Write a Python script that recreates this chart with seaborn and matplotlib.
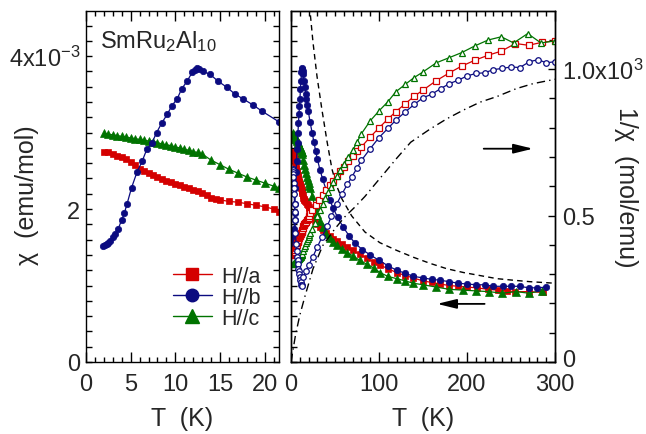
import matplotlib
matplotlib.use('Agg')
import matplotlib.pyplot as plt
import matplotlib.transforms as mtransforms
import seaborn as sns
from matplotlib.lines import Line2D
from matplotlib.ticker import MultipleLocator, FixedLocator, FixedFormatter, NullFormatter

sns.set_style('ticks')
plt.rcParams['font.family'] = ['Liberation Sans', 'DejaVu Sans']
plt.rcParams['mathtext.fontset'] = 'custom'
plt.rcParams['mathtext.rm'] = 'Liberation Sans'
plt.rcParams['mathtext.it'] = 'Liberation Sans:italic'
plt.rcParams['mathtext.bf'] = 'Liberation Sans:bold'

RED = '#d40000'
BLUE = '#0b0b80'
GREEN = '#007300'

labels = ['H//a', 'H//b', 'H//c']

# ---- chi (10^-3 emu/mol), low temperature (left panel) ----
T_lo_a = [2.0, 2.5, 3.0, 3.5, 4.0, 4.5, 5.0, 5.5, 6.0, 6.5, 7.0, 7.5, 8.0, 8.5, 9.0, 9.5,
          10.0, 10.5, 11.0, 11.5, 12.0, 12.5, 13.0, 13.5, 14.0, 14.5, 15.0,
          16.0, 17.0, 18.0, 19.0, 20.0, 21.0, 21.6]
chi_lo_a = [2.75, 2.74, 2.72, 2.70, 2.68, 2.65, 2.61, 2.57, 2.53, 2.50, 2.47, 2.44, 2.42, 2.39, 2.37, 2.35,
            2.33, 2.31, 2.29, 2.27, 2.25, 2.23, 2.21, 2.18, 2.15, 2.13, 2.12,
            2.10, 2.09, 2.07, 2.05, 2.03, 2.00, 1.96]

T_lo_b = [1.9, 2.1, 2.3, 2.5, 2.7, 3.0, 3.3, 3.6, 4.0, 4.3, 4.6, 5.1, 5.7, 6.3, 6.8, 7.4, 7.9, 8.5,
          9.1, 9.6, 10.2, 10.7, 11.3, 11.9, 12.2, 12.4, 12.6, 13.1, 13.9, 14.8, 15.8, 16.7, 17.6,
          18.7, 19.7, 21.6]
chi_lo_b = [1.52, 1.53, 1.54, 1.56, 1.58, 1.64, 1.68, 1.74, 1.86, 1.95, 2.07, 2.28, 2.48, 2.63, 2.78,
            2.87, 3.00, 3.13, 3.24, 3.35, 3.44, 3.57, 3.67, 3.79, 3.82, 3.84, 3.83, 3.80, 3.76, 3.67,
            3.59, 3.50, 3.44, 3.36, 3.28, 3.14]

T_lo_c = [2.0, 2.5, 3.0, 3.5, 4.0, 4.5, 5.0, 5.5, 6.0, 6.5, 7.0, 7.5, 8.0, 8.5, 9.0, 9.5, 10.0,
          10.5, 11.0, 11.5, 12.0, 12.5, 13.0, 14.0, 15.0, 16.0, 17.0, 18.0, 19.0, 20.0, 21.0, 21.6]
chi_lo_c = [2.99, 2.98, 2.97, 2.96, 2.95, 2.94, 2.93, 2.92, 2.91, 2.90, 2.89, 2.88, 2.87, 2.85, 2.84,
            2.83, 2.81, 2.80, 2.78, 2.77, 2.75, 2.74, 2.72, 2.64, 2.58, 2.52, 2.47, 2.42, 2.38,
            2.34, 2.30, 2.28]

# ---- chi (10^-3 emu/mol), higher temperature (right panel) ----
T_hi_a = [24, 27, 30, 33, 36, 40, 44, 48, 52, 58, 64, 70, 78, 86, 94, 101, 110, 120, 130, 139,
          150, 160, 169, 180, 190, 200, 211, 224, 235, 245, 255, 270, 286]
chi_hi_a = [1.90, 1.85, 1.80, 1.76, 1.73, 1.69, 1.65, 1.61, 1.58, 1.54, 1.50, 1.46, 1.41, 1.36,
            1.31, 1.27, 1.22, 1.17, 1.13, 1.10, 1.06, 1.04, 1.02, 1.00, 0.99, 0.98, 0.97, 0.95,
            0.94, 0.93, 0.92, 0.92, 0.91]

T_hi_b = [24, 26, 28, 30, 33, 36, 40, 44, 48, 53, 59, 66, 73, 81, 90, 100, 110, 120, 130, 139,
          150, 160, 169, 180, 190, 200, 210, 220, 230, 241, 250, 260, 270, 280, 290]
chi_hi_b = [3.00, 2.88, 2.76, 2.65, 2.51, 2.39, 2.25, 2.12, 2.01, 1.89, 1.77, 1.65, 1.55, 1.47,
            1.40, 1.33, 1.26, 1.20, 1.16, 1.12, 1.10, 1.08, 1.07, 1.05, 1.03, 1.02, 1.01, 1.01,
            0.99, 0.99, 0.99, 0.99, 0.97, 0.97, 0.98]

T_hi_c = [24, 27, 30, 33, 36, 40, 44, 48, 52, 58, 64, 70, 78, 86, 94, 101, 110, 120, 130, 139,
          150, 165, 180, 195, 210, 225, 240, 256, 270, 285]
chi_hi_c = [2.17, 2.04, 1.93, 1.84, 1.77, 1.68, 1.62, 1.57, 1.53, 1.48, 1.43, 1.39, 1.33, 1.28,
            1.23, 1.17, 1.12, 1.09, 1.06, 1.03, 1.01, 0.98, 0.95, 0.94, 0.93, 0.92, 0.90, 0.92,
            0.90, 0.93]

# ---- 1/chi (mol/emu) ----
T_inv_a = T_lo_a + [24, 28, 32, 36, 40, 44, 48, 52, 56, 60, 65, 70, 75, 80, 90, 100, 110, 119,
                    130, 140, 150, 165, 180, 194, 209, 224, 239, 255, 270, 285, 300]
inv_a = [364, 365, 368, 370, 373, 377, 383, 389, 395, 400, 405, 410, 413, 418, 422, 426, 429,
         433, 437, 441, 444, 448, 452, 459, 465, 469, 472, 476, 478, 483, 488, 493, 500, 510,
         519, 536, 553, 570, 587, 603, 619, 635, 651, 666, 685, 703, 719, 734, 768, 799, 829,
         854, 882, 907, 928, 960, 987, 1010, 1030, 1047, 1061, 1087, 1081, 1091, 1096]

T_inv_b = [1.9, 2.1, 2.3, 2.5, 2.7, 3.0, 3.3, 3.6, 4.0, 4.3, 4.6, 5.1, 5.7, 6.3, 6.8, 7.4, 7.9,
           8.5, 9.1, 9.6, 10.2, 10.7, 11.3, 11.9, 12.2, 12.4,
           14, 17, 20, 25, 30, 35, 41, 46, 52, 58, 64, 69, 75, 80, 90, 100, 110, 119, 130, 140,
           150, 160, 170, 180, 190, 200, 210, 220, 230, 240, 250, 260, 271, 281, 290, 300]
inv_b = [658, 654, 649, 641, 633, 610, 595, 575, 538, 513, 483, 439, 403, 380, 360, 348, 333,
         319, 309, 299, 291, 280, 272, 264, 262, 260,
         290, 310, 330, 360, 393, 425, 463, 497, 540, 574, 606, 631, 662, 688, 728, 766, 797,
         825, 854, 879, 902, 914, 933, 950, 962, 976, 985, 987, 998, 1002, 1007, 1005, 1025,
         1032, 1021, 1025]

T_inv_c = T_lo_c + [24, 27, 30, 33, 36, 39, 42, 45, 48, 52, 56, 60, 65, 70, 75, 80, 90, 100, 110,
                    119, 130, 140, 150, 165, 180, 194, 209, 224, 239, 253, 269, 284, 300]
inv_c = [334, 336, 337, 338, 339, 340, 341, 342, 344, 345, 346, 347, 348, 351, 352, 353, 356,
         357, 360, 361, 364, 365, 368, 380, 389, 397, 405, 413, 420, 427, 435, 439,
         455, 475, 497, 518, 540, 560, 580, 598, 614, 635, 656, 676, 700, 722, 750, 779, 823,
         857, 888, 922, 948, 971, 990, 1021, 1039, 1056, 1079, 1099, 1110, 1089, 1121, 1089, 1096]

# ---- guide curves ----
T_dash = [21, 21.6, 25, 29.5, 35, 41, 46.6, 52, 58, 69, 84, 101, 120, 139, 158, 177, 196, 215,
          234, 252, 272, 300]
chi_dash = [4.66, 4.59, 4.18, 3.74, 3.31, 2.88, 2.52, 2.30, 2.13, 1.91, 1.70, 1.56, 1.46, 1.37,
            1.29, 1.22, 1.17, 1.13, 1.09, 1.07, 1.05, 1.03]
T_dd = [0, 5, 10, 16, 25, 36, 50, 61, 73, 84, 95, 107, 120, 136, 158, 177, 196, 215, 234, 256,
        275, 300]
inv_dd = [0, 90, 160, 226, 318, 397, 455, 495, 530, 565, 605, 648, 695, 750, 795, 830, 860, 887,
          906, 933, 950, 965]

W, H = 646, 435
fig = plt.figure(figsize=(W / 100, H / 100), dpi=100)
axL = fig.add_axes([86 / W, 1 - 363 / H, 193 / W, 351 / H])
axR = fig.add_axes([291 / W, 1 - 363 / H, 264 / W, 351 / H])
axR2 = axR.twinx()

filled_ms = 4.6
open_ms = 4.0


def draw(ax, x, y, color, marker, ms, filled=True, lw=0.9):
    if filled:
        sns.lineplot(x=x, y=y, ax=ax, color=color, lw=lw, marker=marker, markersize=ms,
                     markerfacecolor=color, markeredgecolor=color, markeredgewidth=0.5,
                     sort=False, estimator=None, legend=False)
    else:
        sns.lineplot(x=x, y=y, ax=ax, color=color, lw=lw, marker=marker, markersize=ms,
                     markerfacecolor='white', markeredgecolor=color, markeredgewidth=0.9,
                     sort=False, estimator=None, legend=False)


# left panel
draw(axL, T_lo_a, chi_lo_a, RED, 's', filled_ms)
draw(axL, T_lo_c, chi_lo_c, GREEN, '^', filled_ms + 0.6)
draw(axL, T_lo_b, chi_lo_b, BLUE, 'o', filled_ms)

# right panel, chi
draw(axR, T_lo_a + T_hi_a, chi_lo_a + chi_hi_a, RED, 's', filled_ms)
draw(axR, T_lo_c + T_hi_c, chi_lo_c + chi_hi_c, GREEN, '^', filled_ms + 0.6)
draw(axR, T_lo_b + T_hi_b, chi_lo_b + chi_hi_b, BLUE, 'o', filled_ms)
sns.lineplot(x=T_dash, y=chi_dash, ax=axR, color='black', lw=1.0, linestyle=(0, (4, 3)),
             sort=False, estimator=None, legend=False)

# right panel, 1/chi
draw(axR2, T_inv_a, inv_a, RED, 's', open_ms, filled=False)
draw(axR2, T_inv_c, inv_c, GREEN, '^', open_ms + 0.5, filled=False)
draw(axR2, T_inv_b, inv_b, BLUE, 'o', open_ms, filled=False)
sns.lineplot(x=T_dd, y=inv_dd, ax=axR2, color='black', lw=1.0, linestyle=(0, (6, 3, 1, 3)),
             sort=False, estimator=None, legend=False)

# arrows
astyle = '-|>,head_length=0.9,head_width=0.22'
axR.annotate('', xy=(166, 0.76), xytext=(220, 0.76),
             arrowprops=dict(arrowstyle=astyle, color='black', lw=1.3, mutation_scale=13,
                             shrinkA=0, shrinkB=0))
axR2.annotate('', xy=(275, 728), xytext=(219, 728),
              arrowprops=dict(arrowstyle=astyle, color='black', lw=1.3, mutation_scale=13,
                              shrinkA=0, shrinkB=0))

# axes limits & ticks
YMAX = 4.59
for ax in (axL, axR):
    ax.set_ylim(0, YMAX)
    ax.set_ylabel('')
    ax.set_xlabel('')
axL.set_xlim(0, 21.6)
axR.set_xlim(0, 300)
axR2.set_ylim(0, 1198)
axR2.set_ylabel('')

axL.xaxis.set_major_locator(FixedLocator([0, 5, 10, 15, 20]))
axL.xaxis.set_minor_locator(MultipleLocator(1))
axR.xaxis.set_major_locator(FixedLocator([0, 100, 200, 300]))
axR.xaxis.set_minor_locator(MultipleLocator(10))

axL.yaxis.set_major_locator(FixedLocator([0, 2, 4]))
axL.yaxis.set_major_formatter(FixedFormatter(['0', '2', r'4x10$^{-3}$']))
axL.yaxis.set_minor_locator(MultipleLocator(0.2))
axR.yaxis.set_major_locator(FixedLocator([0, 2, 4]))
axR.yaxis.set_minor_locator(MultipleLocator(0.2))
axR.yaxis.set_major_formatter(NullFormatter())

axR2.yaxis.set_major_locator(FixedLocator([0, 500, 1000]))
axR2.yaxis.set_major_formatter(FixedFormatter(['', '0.5', r'1.0x10$^{3}$']))
axR2.yaxis.set_minor_locator(MultipleLocator(100))

for ax in (axL, axR, axR2):
    for sp in ax.spines.values():
        sp.set_visible(True)
        sp.set_linewidth(1.0)
        sp.set_color('black')

TICKFS = 17
TC = 'black'
axL.tick_params(axis='x', which='both', direction='in', top=True, bottom=True, labelsize=TICKFS,
                pad=8, width=1.0, color=TC)
axL.tick_params(axis='x', which='major', length=7)
axL.tick_params(axis='x', which='minor', length=3.8)
axL.tick_params(axis='y', which='both', direction='in', left=True, right=True, length=4,
                width=1.0, labelsize=TICKFS, pad=4, color=TC)

axR.tick_params(axis='x', which='both', direction='in', top=True, bottom=True, labelsize=TICKFS,
                pad=8, width=1.0, color=TC)
axR.tick_params(axis='x', which='major', length=7)
axR.tick_params(axis='x', which='minor', length=3.8)
axR.tick_params(axis='y', which='both', direction='in', left=True, right=False, labelleft=False,
                labelright=False, length=4, width=1.0, color=TC)
axR2.tick_params(axis='y', which='both', direction='in', left=False, right=True, labelright=True,
                 labelsize=TICKFS, pad=5, width=1.0, color=TC)
axR2.tick_params(axis='y', which='major', length=5)
axR2.tick_params(axis='y', which='minor', length=4)

# zero label of the 1/chi axis, nudged up a little so it clears the "300" below it
zero_tr = mtransforms.blended_transform_factory(axR2.transAxes, axR2.transData) + \
    mtransforms.ScaledTranslation(5 / 72, 4 / 100, fig.dpi_scale_trans)
axR2.text(1.0, 0, '0', transform=zero_tr, fontsize=TICKFS, ha='left', va='center_baseline')

# texts
axL.text((100 - 86) / 193, (363 - 48) / 351, r'SmRu$_2$Al$_{10}$', transform=axL.transAxes,
         fontsize=17, ha='left', va='baseline')
LABFS = 18
fig.text(27 / W, 1 - 195 / H, 'χ  (emu/mol)', rotation=90, ha='center', va='center', fontsize=LABFS)
fig.text(626 / W, 1 - 187 / H, '1/χ  (mol/emu)', rotation=270, ha='center', va='center',
         fontsize=LABFS)
fig.text(182 / W, 1 - 419 / H, 'T  (K)', ha='center', va='center', fontsize=LABFS)
fig.text(423 / W, 1 - 419 / H, 'T  (K)', ha='center', va='center', fontsize=LABFS)

# legend
handles = [
    Line2D([], [], color=RED, lw=1.0, marker='s', markersize=9, markerfacecolor=RED, markeredgecolor=RED),
    Line2D([], [], color=BLUE, lw=1.0, marker='o', markersize=9, markerfacecolor=BLUE, markeredgecolor=BLUE),
    Line2D([], [], color=GREEN, lw=1.0, marker='^', markersize=10, markerfacecolor=GREEN, markeredgecolor=GREEN),
]
axL.legend(handles, labels, loc='upper left', bbox_to_anchor=((173 - 86) / 193, (363 - 267) / 351),
           frameon=False, fontsize=15.5, handlelength=1.8, handletextpad=0.45, labelspacing=0.0,
           borderpad=0, borderaxespad=0)

fig.savefig('out.png', dpi=100)
